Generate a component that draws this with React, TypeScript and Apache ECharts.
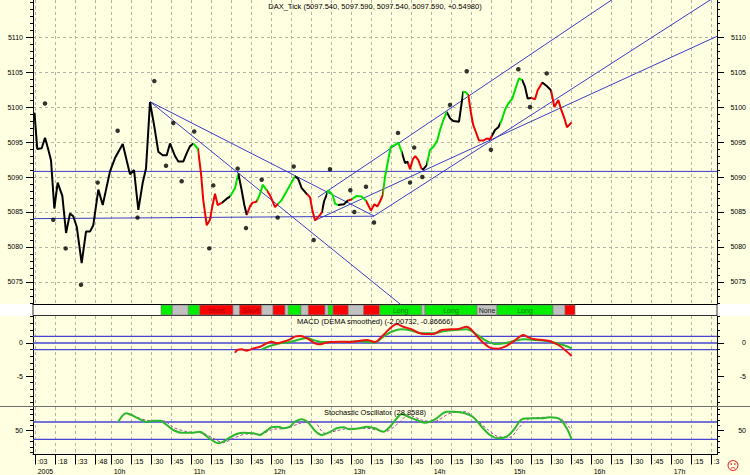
import React, { useEffect, useRef } from 'react';
import * as echarts from 'echarts';

const FONT = '"Liberation Sans", Arial, sans-serif';

// ---- time axis (minutes after 09:00) ----
const axisStartMinute = 1;
const axisEndMinute = 514;
const timeTickMinutes = [3, 18, 33, 48, 60, 75, 90, 105, 120, 135, 150, 165, 180, 195, 210, 225, 240, 255, 270, 285, 300, 315, 330, 345, 360, 375, 390, 405, 420, 435, 450, 465, 480, 495, 510];

// ---- price panel ----
const priceTicks = [5075, 5080, 5085, 5090, 5095, 5100, 5105, 5110];
const priceTimes = [2.1, 4.2, 7.5, 10, 12.5, 14.5, 17, 19.5, 23, 25.8,
  28.75, 31.2, 33.8, 37.5, 40.75, 43.75, 46.2, 50, 53.3, 58.75,
  62.5, 68.3, 73.75, 76.75, 80, 83.3, 85.75, 88.75, 92, 95,
  98.3, 101.3, 103.75, 107.5, 110, 113.7, 116.3, 118.75, 121.2, 124.75,
  127, 128.7, 131.3, 133.75, 135.5, 137.5, 139.5, 142.5, 146.3, 148.75,
  152.5, 155, 157.5, 159.5, 161.3, 163.75, 165.5, 168.8, 171.25, 173.3,
  176.3, 178.75, 182.5, 185, 187.5, 192.5, 197.5, 200, 202.5, 206.3,
  208.75, 210.5, 212.5, 216.25, 217.75, 219.25, 222.5, 225.8, 227.5, 229.75,
  234.25, 236.9, 240, 243.8, 247.5, 250.75, 254.5, 257, 259.2, 261.25,
  263.3, 265, 267, 269.3, 272.5, 275, 277.5, 280, 282, 283.75,
  285.8, 287.7, 290, 292.4, 293.7, 296.3, 298.75, 301.2, 304.2, 306.25,
  308.7, 311.3, 313.75, 316.2, 320.5, 323.7, 325.75, 327.5, 329.5, 331.2,
  333, 335.5, 338.7, 341.3, 343.75, 345.5, 347.5, 350, 352.5, 355,
  357.5, 360.5, 363, 365.5, 368, 370, 372, 374.5, 377.5, 379.5,
  383, 386.3, 389.5, 392, 395, 397, 399.5, 401.5, 405];
const priceValues = [5099.2, 5094.0, 5094.1, 5095.6, 5093.9, 5092.4, 5085.5, 5089.2, 5087.3, 5082.0,
  5084.8, 5084.4, 5082.9, 5077.7, 5082.2, 5082.2, 5083.1, 5088.2, 5086.0, 5090.8,
  5092.7, 5094.7, 5090.4, 5091.0, 5085.3, 5089.2, 5091.2, 5100.7, 5097.2, 5093.6,
  5093.1, 5093.1, 5094.8, 5093.0, 5092.2, 5092.2, 5093.4, 5094.4, 5094.8, 5094.0,
  5090.5, 5086.7, 5083.1, 5083.9, 5085.8, 5087.6, 5086.0, 5086.3, 5086.9, 5087.2,
  5088.4, 5090.5, 5088.1, 5086.0, 5084.6, 5085.8, 5086.3, 5086.5, 5087.6, 5088.9,
  5088.1, 5087.4, 5085.7, 5086.2, 5086.7, 5088.4, 5090.1, 5089.7, 5088.4, 5087.6,
  5087.1, 5085.3, 5083.8, 5084.6, 5085.0, 5086.5, 5088.1, 5087.4, 5086.2, 5086.0,
  5086.1, 5086.6, 5086.8, 5087.3, 5087.2, 5086.6, 5085.2, 5086.1, 5085.8, 5086.5,
  5087.4, 5090.0, 5092.0, 5094.3, 5094.6, 5094.9, 5093.6, 5092.0, 5092.2, 5091.1,
  5092.5, 5093.0, 5092.4, 5091.2, 5091.1, 5091.7, 5093.9, 5094.3, 5095.2, 5096.7,
  5098.1, 5099.3, 5098.4, 5098.0, 5097.9, 5102.2, 5102.1, 5101.7, 5099.1, 5097.4,
  5096.5, 5095.2, 5095.2, 5095.5, 5095.4, 5096.0, 5096.7, 5097.1, 5098.1, 5099.6,
  5100.5, 5101.2, 5102.7, 5104.1, 5103.8, 5102.9, 5101.2, 5101.3, 5101.1, 5102.4,
  5103.5, 5103.0, 5102.4, 5100.0, 5101.0, 5099.7, 5098.4, 5097.1, 5097.8];

// colour state of the price line, starting at each time
const stateStartTimes = [1, 121.2, 124.75, 142.5, 148.75, 155, 161.3, 168.8, 176.3, 185, 197.5, 206.3, 217.75, 221.5, 229.75, 236.9, 240, 250.75, 263.3, 277.5, 282, 292.4, 296.3, 311.3, 323.7, 327.5, 345.5, 351.25, 368, 374.5, 383, 389.5];
const stateKinds = ['flat', 'up', 'down', 'flat', 'up', 'flat', 'down', 'up', 'down', 'up', 'flat', 'down', 'flat', 'up', 'flat', 'down', 'up', 'down', 'up', 'flat', 'down', 'flat', 'up', 'flat', 'up', 'down', 'flat', 'up', 'flat', 'down', 'flat', 'down'];

// swing points
const swingTimes = [10, 16.2, 25.5, 37, 49.5, 64.5, 79.4, 92, 100.75, 106.2, 112.5, 121.9, 133.2, 136.2, 154.5, 160.75, 172.5, 184.5, 196.5, 211.5, 223.75, 239, 242, 250.75, 256.75, 274.75, 283.75, 286.9, 293, 313.75, 326.3, 344.4, 365, 373.75, 386.3];
const swingValues = [5100.5, 5083.9, 5079.8, 5074.6, 5089.2, 5096.6, 5084.2, 5103.7, 5091.6, 5097.7, 5089.4, 5096.5, 5079.8, 5088.8, 5091.2, 5082.7, 5089.6, 5084.2, 5091.5, 5081.0, 5091.1, 5088.1, 5085.0, 5088.6, 5083.5, 5096.3, 5089.2, 5094.2, 5090.0, 5100.3, 5105.1, 5093.9, 5105.4, 5100.0, 5104.8];

// trend lines
const trendStartTimes = [1, 1, 88.75, 88.75, 214.75, 256.75, 212.5];
const trendStartValues = [5090.8, 5084.05, 5100.76, 5100.76, 5087.1, 5084.43, 5083.8];
const trendEndTimes = [514, 256.75, 256.75, 300, 460, 531, 514];
const trendEndValues = [5090.8, 5084.4, 5084.43, 5068.2, 5118.5, 5118.0, 5110.1];

// annotation
const noteTime = 184.75;
const noteValue = 5095.6;
const noteText = 'MaMbe';

// ---- signal strip ----
const signalStarts = [97, 105.5, 117.5, 126, 151, 156, 172.5, 181, 190, 192.5, 202, 207.5, 220, 222.5, 226, 237.5, 249, 261, 292.5, 295, 334, 349, 391, 400];
const signalEnds = [105.5, 117.5, 126, 151, 156, 172.5, 181, 190, 192.5, 202, 207.5, 220, 222.5, 226, 237.5, 249, 261, 292.5, 295, 334, 349, 391, 400, 407.5];
const signalKinds = ['long', 'none', 'long', 'short', 'none', 'short', 'none', 'short', 'none', 'long', 'none', 'short', 'none', 'long', 'short', 'none', 'short', 'long', 'none', 'long', 'none', 'long', 'none', 'short'];
const signalLabels = ['', '', '', 'Short', '', 'Short', '', '', '', '', '', '', '', '', '', '', '', 'Long', '', 'Long', 'None', 'Long', '', ''];

// ---- MACD ----
const macdTicks = [0, -5];
const macdLevels = [1, 0, -1];
const macdTimes = [152.5, 154.2, 157.5, 161.3, 166.2, 171.25, 176.3, 180, 183.8, 188.7, 193.75, 197.5, 201.25, 205, 208.75, 212.5, 215.7, 219.25, 223.75, 231.25, 238.75, 246.25, 251.3, 257.5, 262.5, 267.5, 273.8, 278.7, 285, 290, 295, 301.2, 307.5, 313.75, 320, 326.3, 330, 333.8, 338.7, 343.75, 350, 355, 360, 365, 368.7, 372.5, 377.5, 382.5, 387.5, 392.5, 396.25, 400, 405];
const macdValues = [-1.47, -1.06, -0.96, -1.16, -0.81, -0.56, -0.05, 0.2, -0.05, 0.2, 0.56, 0.96, 1.06, 0.86, 0.45, -0.05, -0.2, -0.05, 0.15, 0.2, 0.15, 0.35, 0.45, 0.15, 0.95, 1.97, 2.88, 2.47, 2.07, 1.56, 1.36, 1.36, 1.97, 2.07, 2.12, 2.47, 1.97, 1.06, 0.05, -0.71, -0.86, -0.56, 0.05, 0.8, 1.21, 0.86, 0.56, 0.45, 0.35, -0.05, -0.45, -1.06, -1.97];
const macdSignalTimes = [172.5, 178.75, 186.25, 193.75, 201.25, 206.3, 211.2, 216.25, 223.75, 238.75, 246.25, 257.5, 263.7, 270, 277.5, 285, 292.5, 301.2, 308.7, 317.5, 326.3, 332.5, 340, 347.5, 355, 362.5, 370, 377.5, 385, 392.5, 398.7, 405];
const macdSignalValues = [-0.96, -0.45, -0.05, 0.15, 0.56, 0.76, 0.45, 0.2, 0.15, 0.2, 0.26, 0.05, 0.96, 1.71, 2.07, 1.87, 1.46, 1.46, 1.76, 1.97, 2.07, 1.46, 0.45, -0.15, -0.05, 0.35, 0.56, 0.45, 0.35, 0.05, -0.3, -0.81];

// ---- Stochastic ----
const stochTicks = [50];
const stochLevels = [70, 30];
const stochTimes = [65, 70.75, 75, 81.25, 86.3, 91.2, 96.25, 101.3, 106.2, 112.5, 120, 126.25, 130, 135, 140, 143.7, 148.75, 153.8, 158.7, 166.2, 171.25, 175, 180, 185, 188.7, 193.75, 197.5, 202.5, 207.5, 212.5, 217.5, 222.5, 228.8, 233.7, 238.75, 246.25, 251.3, 257.5, 263.7, 268.75, 273.8, 277.5, 282.5, 290, 295, 302.5, 311.3, 317.5, 325, 331.2, 337.5, 343.75, 350, 356.3, 362.5, 367.5, 375, 382.5, 388.75, 396.25, 401.3, 405];
const stochValues = [70.7, 90, 86.1, 76.2, 70, 73, 73, 63.1, 51.6, 45.4, 45.4, 47.7, 40.1, 28.6, 21, 24.7, 34.8, 42.4, 45.4, 44, 40.1, 47.7, 57.8, 59.2, 55.5, 59.2, 70.7, 76.2, 68.4, 50, 40.1, 45.4, 55.5, 57.8, 53.2, 55.5, 59.2, 55.5, 47.7, 59.2, 78.5, 88.4, 82.2, 73, 68.4, 76.2, 93.7, 93.7, 90, 80.8, 59.2, 40.1, 32.5, 36.2, 55.5, 76.2, 78.5, 78.5, 80.8, 76.2, 55.5, 30.2];
const stochSignalTimes = [72.25, 78.8, 88.75, 98.7, 106.2, 116.3, 128.7, 136.2, 143.7, 151.2, 161.3, 171.25, 181.2, 191.3, 201.25, 211.2, 220, 228.8, 238.75, 251.3, 265, 275, 282.5, 292.5, 301.2, 313.75, 325, 335, 342.5, 350, 358.75, 365, 372.5, 387.5, 397.5, 403.75];
const stochSignalValues = [88, 80.8, 73, 73, 57.8, 47.7, 44, 32.5, 22.4, 32.5, 42.4, 42.4, 53.2, 55.5, 67, 70.7, 44, 50, 55.5, 55.5, 47.7, 67, 86.1, 74.6, 70.7, 90, 93.7, 70.7, 51.6, 36.2, 34.8, 55.5, 76.2, 80.8, 76.2, 55.5];

// ---- texts ----
const mainTitle = 'DAX_Tick (5097.540, 5097.590, 5097.540, 5097.590, +0.54980)';
const macdTitle = 'MACD (DEMA smoothed) (-2.00732, -0.86666)';
const stochTitle = 'Stochastic Oscillator (28.8588)';

const STATE_COLORS: Record<string, string> = { flat: '#000000', up: '#00e000', down: '#f00000' };
const SIGNAL_COLORS: Record<string, string> = { long: '#00ee00', short: '#ff0000', none: '#c0c0c0' };
const SIGNAL_TEXT: Record<string, string> = { long: '#007a00', short: '#a00000', none: '#202020' };
const TREND_BLUE = '#3c3cc8';
const ICON_RED = '#e03a3a';

const zip = (a: number[], b: number[]) => a.map((v, i) => [v, b[i]]);
const range = (a: number, b: number, s: number) => { const r: number[] = []; for (let v = a; v <= b + 1e-9; v += s) r.push(v); return r; };

function yAxesFor(gridIndex: number, min: number, max: number, majors: number[], minors: number[], split: boolean) {
  const base = { type: 'value', gridIndex, min, max, splitNumber: 5 };
  const label = { fontSize: 7, color: '#000', fontFamily: FONT, formatter: (v: number) => String(v) };
  return [
    {
      ...base, position: 'left',
      axisLine: { show: true, onZero: false, lineStyle: { color: '#000' } },
      axisTick: { show: true, customValues: majors, length: 7, lineStyle: { color: '#000' } },
      axisLabel: { ...label, customValues: majors, margin: 10 },
      splitLine: split ? { show: true, lineStyle: { color: '#b4b4a4', type: [3, 3], width: 1 } } : { show: false },
    },
    {
      ...base, position: 'right',
      axisLine: { show: true, onZero: false, lineStyle: { color: '#000' } },
      axisTick: { show: true, customValues: majors, length: 7, lineStyle: { color: '#000' } },
      axisLabel: { ...label, customValues: majors, margin: 29, align: 'right' },
      splitLine: { show: false },
    },
    {
      ...base, position: 'left',
      axisLine: { show: false, onZero: false },
      axisTick: { show: true, customValues: minors, length: 3, lineStyle: { color: '#000' } },
      axisLabel: { show: false, customValues: minors },
      splitLine: { show: false },
    },
    {
      ...base, position: 'right',
      axisLine: { show: false, onZero: false },
      axisTick: { show: true, customValues: minors, length: 3, lineStyle: { color: '#000' } },
      axisLabel: { show: false, customValues: minors },
      splitLine: { show: false },
    },
  ];
}

function buildOption() {
  const gridBase = { left: 33, width: 684, outerBoundsMode: 'none', containLabel: false };
  const grid = [
    { ...gridBase, top: 0, height: 304 },
    { ...gridBase, top: 304.5, height: 11, show: true, backgroundColor: '#fffff4', borderColor: '#303030', borderWidth: 1 },
    { ...gridBase, top: 316, height: 90.5 },
    { ...gridBase, top: 407, height: 47.5 },
  ];

  const dashedV = { show: true, lineStyle: { color: '#b4b4a4', type: [3, 3], width: 1 } };
  const xBase = (gi: number) => ({
    type: 'value', gridIndex: gi, min: axisStartMinute, max: axisEndMinute,
    axisLine: { show: false, onZero: false },
    axisTick: { show: false, customValues: timeTickMinutes },
    axisLabel: { show: false, customValues: timeTickMinutes },
    splitLine: dashedV,
  });
  const xLabel = (v: number) => {
    const mm = Math.round(v) % 60;
    let s = ':' + String(mm).padStart(2, '0');
    if (v === 510) s = ':3';
    if (v === 3) s += '\n2005';
    else if (mm === 0) s += '\n' + (9 + Math.round(v / 60)) + 'h';
    return s;
  };
  const xAxis = [
    { ...xBase(0), axisLine: { show: true, onZero: false, lineStyle: { color: '#000' } } },
    { ...xBase(1), splitLine: { show: false } },
    xBase(2),
    {
      ...xBase(3),
      axisLine: { show: true, onZero: false, lineStyle: { color: '#000' } },
      axisTick: { show: true, customValues: timeTickMinutes, length: 10, lineStyle: { color: '#000' } },
      axisLabel: {
        show: true, customValues: timeTickMinutes, formatter: xLabel, margin: 2, fontSize: 7, lineHeight: 10,
        align: 'left', padding: [0, 0, 0, 2], color: '#000', fontFamily: FONT,
      },
    },
  ];

  const priceMin = 5071.857, priceMax = 5115.286;
  const macdMin = -9.62, macdMax = 4.09;
  const stochMin = -4.7, stochMax = 104.5;
  const yAxis = [
    ...yAxesFor(0, priceMin, priceMax, priceTicks, range(5072, 5115, 1), true), // 0..3
    { type: 'value', gridIndex: 1, min: 0, max: 1, show: false }, // 4
    ...yAxesFor(2, macdMin, macdMax, macdTicks, range(-9, 4, 1), false), // 5..8
    ...yAxesFor(3, stochMin, stochMax, stochTicks, [0, 12.5, 25, 37.5, 62.5, 75, 87.5, 100], false), // 9..12
  ];

  const series: any[] = [];
  const priceSeriesIndex = 0;
  series.push({
    type: 'line', xAxisIndex: 0, yAxisIndex: 0, showSymbol: false, symbol: 'none',
    data: zip(priceTimes, priceValues), lineStyle: { width: 2 }, z: 3,
  });
  trendStartTimes.forEach((t, i) => {
    series.push({
      type: 'line', xAxisIndex: 0, yAxisIndex: 0, clip: true, silent: true, showSymbol: false, symbol: 'none',
      color: TREND_BLUE,
      data: [[t, trendStartValues[i]], [trendEndTimes[i], trendEndValues[i]]],
      lineStyle: { color: TREND_BLUE, width: 1 }, z: 2,
    });
  });
  series.push({
    type: 'scatter', xAxisIndex: 0, yAxisIndex: 0, symbol: 'circle', symbolSize: 4.5,
    itemStyle: { color: '#000000' }, data: zip(swingTimes, swingValues), z: 4,
  });
  series.push({
    type: 'scatter', xAxisIndex: 0, yAxisIndex: 0, symbolSize: 1, itemStyle: { opacity: 0 },
    data: [[noteTime, noteValue]], z: 5,
    label: {
      show: true, position: 'inside', formatter: noteText, color: '#2828c0', fontSize: 7, fontFamily: FONT,
      backgroundColor: '#f2f2ff', borderColor: '#2828c0', borderWidth: 1, padding: [1, 2, 0, 2],
    },
  });
  // signal strip
  series.push({
    type: 'custom', xAxisIndex: 1, yAxisIndex: 4,
    data: signalStarts.map((s, i) => [s, signalEnds[i]]),
    encode: { x: [0, 1] },
    renderItem: (params: any, api: any) => {
      const i = params.dataIndex;
      const a = api.coord([api.value(0), 0.95]);
      const b = api.coord([api.value(1), 0.05]);
      const kind = signalKinds[i];
      const children: any[] = [{
        type: 'rect', shape: { x: a[0], y: a[1], width: b[0] - a[0], height: b[1] - a[1] },
        style: { fill: SIGNAL_COLORS[kind], stroke: '#7a7a7a', lineWidth: 0.6 },
      }];
      if (signalLabels[i]) {
        children.push({
          type: 'text',
          style: {
            text: signalLabels[i], x: (a[0] + b[0]) / 2, y: (a[1] + b[1]) / 2 + 0.5, align: 'center', verticalAlign: 'middle',
            fill: SIGNAL_TEXT[kind], font: `7px ${FONT}`,
          },
        });
      }
      return { type: 'group', children };
    },
  });
  // MACD
  macdLevels.forEach((lv) => {
    series.push({
      type: 'line', xAxisIndex: 2, yAxisIndex: 5, symbol: 'none', silent: true, color: '#4646d2',
      data: [[axisStartMinute, lv], [axisEndMinute, lv]], lineStyle: { color: '#4646d2', width: 1.3 }, z: 2,
    });
  });
  series.push({
    type: 'line', xAxisIndex: 2, yAxisIndex: 5, symbol: 'none', smooth: 0.3, color: '#2cb82c',
    data: zip(macdSignalTimes, macdSignalValues), lineStyle: { color: '#2cb82c', width: 2 }, z: 3,
  });
  series.push({
    type: 'line', xAxisIndex: 2, yAxisIndex: 5, symbol: 'none', smooth: 0.3, color: '#ee1010',
    data: zip(macdTimes, macdValues), lineStyle: { color: '#ee1010', width: 2 }, z: 4,
  });
  // Stochastic
  stochLevels.forEach((lv) => {
    series.push({
      type: 'line', xAxisIndex: 3, yAxisIndex: 9, symbol: 'none', silent: true, color: '#4646d2',
      data: [[axisStartMinute, lv], [axisEndMinute, lv]], lineStyle: { color: '#4646d2', width: 1.3 }, z: 2,
    });
  });
  series.push({
    type: 'line', xAxisIndex: 3, yAxisIndex: 9, symbol: 'none', smooth: 0.3, color: '#a048a8',
    data: zip(stochSignalTimes, stochSignalValues), lineStyle: { color: '#a048a8', width: 1, type: [3, 2] }, z: 3,
  });
  series.push({
    type: 'line', xAxisIndex: 3, yAxisIndex: 9, symbol: 'none', smooth: 0.3, color: '#2cb82c',
    data: zip(stochTimes, stochValues), lineStyle: { color: '#2cb82c', width: 2 }, z: 4,
  });

  const pieces = stateStartTimes.map((t, i) => ({
    gte: t, lt: i + 1 < stateStartTimes.length ? stateStartTimes[i + 1] : 10000, color: STATE_COLORS[stateKinds[i]],
  }));

  const titleStyle = { fontSize: 7.5, fontWeight: 'normal', color: '#000', fontFamily: FONT };
  return {
    animation: false,
    backgroundColor: '#ffffe1',
    textStyle: { fontFamily: FONT },
    title: [
      { text: mainTitle, left: 'center', top: 2.5, padding: 0, textStyle: titleStyle },
      { text: macdTitle, left: 'center', top: 317, padding: 0, textStyle: titleStyle },
      { text: stochTitle, left: 'center', top: 408.5, padding: 0, textStyle: titleStyle },
    ],
    grid,
    xAxis,
    yAxis,
    visualMap: [{
      type: 'piecewise', show: false, dimension: 0, seriesIndex: [priceSeriesIndex], pieces,
      outOfRange: { color: '#000' },
    }],
    graphic: [
      { type: 'rect', z: -10, shape: { x: 0, y: 304, width: 750, height: 12 }, style: { fill: '#ffffff' } },
      { type: 'line', z: 10, shape: { x1: 0, y1: 406.5, x2: 750, y2: 406.5 }, style: { stroke: '#6e6e6e', lineWidth: 1 } },
      {
        type: 'group', z: 10,
        children: [
          { type: 'circle', shape: { cx: 733, cy: 465.5, r: 5 }, style: { fill: 'none', stroke: ICON_RED, lineWidth: 1.1 } },
          { type: 'circle', shape: { cx: 731.2, cy: 464, r: 0.8 }, style: { fill: ICON_RED } },
          { type: 'circle', shape: { cx: 734.8, cy: 464, r: 0.8 }, style: { fill: ICON_RED } },
          {
            type: 'arc', shape: { cx: 733, cy: 470.2, r: 2.6, startAngle: Math.PI * 1.2, endAngle: Math.PI * 1.8, clockwise: true },
            style: { fill: 'none', stroke: ICON_RED, lineWidth: 1 },
          },
        ],
      },
    ],
    series,
  };
}

export default function App() {
  const ref = useRef<HTMLDivElement>(null);
  useEffect(() => {
    const el = ref.current;
    if (!el) return;
    const chart = echarts.init(el, null, { renderer: 'svg' });
    chart.setOption(buildOption() as any);
    return () => chart.dispose();
  }, []);
  return <div ref={ref} style={{ position: 'fixed', left: 0, top: 0, width: 750, height: 475 }} />;
}
